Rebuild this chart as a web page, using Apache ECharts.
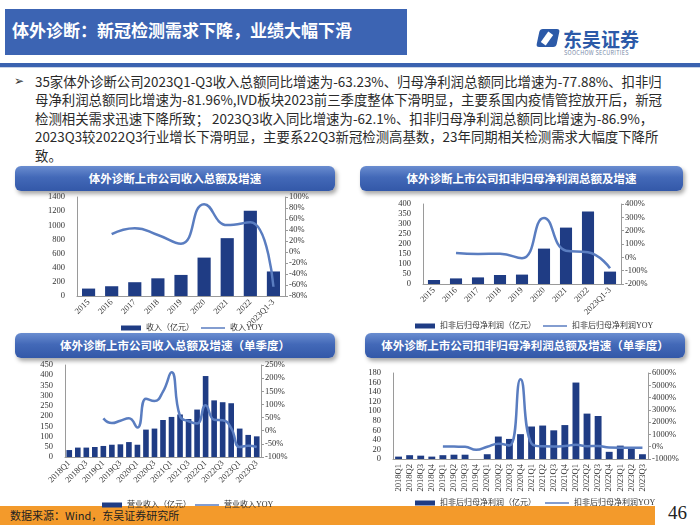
<!DOCTYPE html>
<html><head><meta charset="utf-8">
<script src="https://cdn.jsdelivr.net/npm/echarts@6/dist/echarts.min.js"></script>
<style>
html,body{margin:0;padding:0;background:#fff;}
#wrap{position:relative;width:700px;height:525px;overflow:hidden;background:#fff;font-family:"Noto Sans CJK SC","Noto Sans",sans-serif;}
.abs{position:absolute;}
#titlebar{left:5px;top:9px;width:402px;height:46px;background:#3c64b3;}
#titletxt{left:12px;top:17px;color:#fff;font-size:17px;font-weight:bold;white-space:nowrap;}
#rule{left:0;top:63px;width:700px;height:4px;background:#3a62b0;}
#rule2{left:0;top:67px;width:700px;height:1px;background:#c8d2e6;}
.hdr{position:absolute;height:25px;border-radius:6px;background:linear-gradient(180deg,#6a8dd0 0%,#4369b8 45%,#3358a8 100%);box-shadow:2px 3px 4px rgba(0,0,0,0.35);color:#fff;font-weight:bold;font-size:11.5px;text-align:center;line-height:25px;white-space:nowrap;}
#bullet{left:14px;top:74px;font-size:12px;color:#333;font-family:"DejaVu Sans";}
#btext{left:35px;top:72px;font-size:13.4px;line-height:18.4px;color:#2a2a2a;white-space:nowrap;}
#footer{left:0;top:506px;width:655px;height:19px;background:#f39a2b;}
#foottxt{left:10px;top:507px;font-size:11px;color:#222;white-space:nowrap;line-height:17px;}
#page{left:668px;top:502px;font-size:19px;color:#222;font-family:"Liberation Serif",serif;}
#logo1{left:563px;top:25px;font-size:19px;font-weight:bold;color:#2c5aa8;white-space:nowrap;}
#logo2{left:564px;top:49px;font-size:5.5px;color:#7a8aa8;white-space:nowrap;letter-spacing:0.3px;}
#icon{left:538px;top:29px;width:20px;height:18px;border-radius:3px;background:#2c5aa8;transform:skewX(-12deg);}
#icon2{left:544px;top:32px;width:6px;height:13px;background:#fff;transform:rotate(35deg);}
#chart{position:absolute;left:0;top:0;width:700px;height:525px;}
</style></head>
<body><div id="wrap">
<div class="abs" id="titlebar"></div>
<div class="abs" id="titletxt">体外诊断：新冠检测需求下降，业绩大幅下滑</div>
<div class="abs" id="icon"></div><div class="abs" id="icon2"></div>
<div class="abs" id="logo1">东吴证券</div>
<div class="abs" id="logo2">SOOCHOW SECURITIES</div>
<div class="abs" id="rule"></div><div class="abs" id="rule2"></div>
<div class="abs" id="bullet">➢</div>
<div class="abs" id="btext">35家体外诊断公司2023Q1-Q3收入总额同比增速为-63.23%、归母净利润总额同比增速为-77.88%、扣非归<br>母净利润总额同比增速为-81.96%,IVD板块2023前三季度整体下滑明显，主要系国内疫情管控放开后，新冠<br>检测相关需求迅速下降所致； 2023Q3收入同比增速为-62.1%、扣非归母净利润总额同比增速为-86.9%，<br>2023Q3较2022Q3行业增长下滑明显，主要系22Q3新冠检测高基数，23年同期相关检测需求大幅度下降所<br>致。</div>
<div class="hdr" style="left:15px;top:166px;width:320px;">体外诊断上市公司收入总额及增速</div>
<div class="hdr" style="left:360px;top:166px;width:323px;">体外诊断上市公司扣非归母净利润总额及增速</div>
<div class="hdr" style="left:15px;top:333px;width:320px;">体外诊断上市公司收入总额及增速（单季度）</div>
<div class="hdr" style="left:365px;top:333px;width:320px;">体外诊断上市公司扣非归母净利润总额及增速（单季度）</div>
<div class="abs" id="footer"></div>
<div class="abs" id="foottxt">数据来源：Wind，东吴证券研究所</div>
<div class="abs" id="page">46</div>
<div id="chart"></div>
</div>
<script>
// ---- data ----
const yearCats = ['2015','2016','2017','2018','2019','2020','2021','2022','2023Q1-3'];
const revenueAnnual = [105,138,195,250,298,543,818,1205,347];
const revenueAnnualYoy = [null,32.7,43.4,31,15,87,49,54,-63.2];
const profitAnnual = [20,28,33,45,47,177,282,362,62];
const profitAnnualYoy = [null,32,25,27,-7,295,50,38,-82];
const quarterCats = ['2018Q1','2018Q2','2018Q3','2018Q4','2019Q1','2019Q2','2019Q3','2019Q4','2020Q1','2020Q2','2020Q3','2020Q4','2021Q1','2021Q2','2021Q3','2021Q4','2022Q1','2022Q2','2022Q3','2022Q4','2023Q1','2023Q2','2023Q3'];
const revenueQ = [34,46,46,49,54,60,62,73,60,134,139,181,196,208,186,232,396,277,268,263,139,108,101];
const revenueQYoy = [null,null,null,null,47,29,38,47,12,122,113,149,222,55,36,27,97,42,40,10,-62,-57,-62.1];
const profitQ = [5,8,7,5,8,9,9,0,10,47,42,52,68,70,60,71,160,95,90,15,28,22,10];
const profitQYoy = [null,null,null,null,20,10,0,-250,0,250,100,5500,250,30,20,60,150,40,60,-70,-80,-80,-86.9];
const names = ['收入（亿元）','收入YOY','扣非后归母净利润（亿元）','扣非后归母净利润YOY','营业收入（亿元）','营业收入YOY','扣非后归母净利润（亿元） ','扣非后归母净利润YOY '];

// ---- styles ----
const BAR = '#1f3c84', LINE = '#5a7dc0', AX = '#9a9a9a';
const SERIF = '"Liberation Serif","Noto Sans CJK SC",serif';
const lab = {fontFamily:SERIF,fontSize:8.5,color:'#333'};
function yL(grid,max,interval){return {type:'value',gridIndex:grid,min:0,max:max,interval:interval,
  axisLine:{show:true,lineStyle:{color:AX}},axisTick:{show:false},splitLine:{show:false},
  axisLabel:Object.assign({margin:12,formatter:v=>String(v)},lab)};}
function yR(grid,min,max,interval){return {type:'value',gridIndex:grid,position:'right',min:min,max:max,interval:interval,
  axisLine:{show:true,lineStyle:{color:AX}},axisTick:{show:true,length:3,lineStyle:{color:AX}},splitLine:{show:false},
  axisLabel:Object.assign({margin:4,formatter:v=>String(v)+'%'},lab)};}
function xA(grid,cats,rot,intv){return {type:'category',gridIndex:grid,data:cats,
  axisLine:{lineStyle:{color:AX}},axisTick:{show:false},
  axisLabel:Object.assign({rotate:rot,interval:intv,margin:5},lab)};}
function bar(name,i,data,w){return {name:name,type:'bar',xAxisIndex:i,yAxisIndex:2*i,data:data,barWidth:w,itemStyle:{color:BAR}};}
function line(name,i,data){return {name:name,type:'line',xAxisIndex:i,yAxisIndex:2*i+1,data:data,smooth:0.5,symbol:'none',connectNulls:false,lineStyle:{color:LINE,width:2.5},itemStyle:{color:LINE}};}
const legText = {fontFamily:SERIF,fontSize:8,color:'#333'};
function legB(n,left,top){return {data:[{name:n,icon:'rect'}],left:left,top:top,itemWidth:20,itemHeight:5,textStyle:legText};}
function legL(n,left,top){return {data:[{name:n,icon:'rect',itemStyle:{color:LINE}}],left:left,top:top,itemWidth:24,itemHeight:1.5,textStyle:legText};}

const chart = echarts.init(document.getElementById('chart'),null,{renderer:'canvas'});
chart.setOption({
  animation:false,
  grid:[
    {left:77,top:197,width:208,height:99},
    {left:423,top:204,width:198,height:80},
    {left:65,top:365,width:196,height:92},
    {left:393,top:373,width:255,height:86}
  ],
  xAxis:[xA(0,yearCats,45,0),xA(1,yearCats,45,0),xA(2,quarterCats,45,1),xA(3,quarterCats,90,0)],
  yAxis:[yL(0,1400,200),yR(0,-80,100,20),yL(1,400,50),yR(1,-200,400,100),yL(2,450,50),yR(2,-100,250,50),yL(3,180,20),yR(3,-1000,6000,1000)],
  legend:[legB(names[0],116,319),legL(names[1],196,319),legB(names[2],410,317),legL(names[3],538,317),
          legB(names[4],97,496),legL(names[5],190,496),legB(names[6],410,494),legL(names[7],540,494)],
  series:[
    bar(names[0],0,revenueAnnual,'57%'),line(names[1],0,revenueAnnualYoy),
    bar(names[2],1,profitAnnual,'55%'),line(names[3],1,profitAnnualYoy),
    bar(names[4],2,revenueQ,'66%'),line(names[5],2,revenueQYoy),
    bar(names[6],3,profitQ,'62%'),line(names[7],3,profitQYoy)
  ]
});
</script>
</body></html>
